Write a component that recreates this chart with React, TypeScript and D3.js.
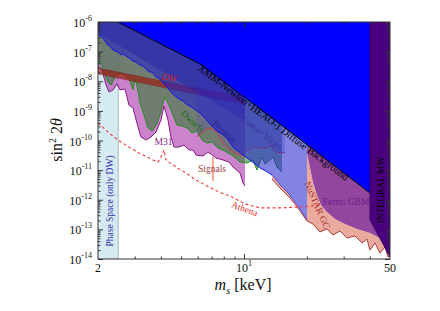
import React, { useRef, useEffect } from 'react';
import * as d3 from 'd3';

type Pt = [number, number];

// axes
const massExtent: Pt = [2, 50];
const mixExtent: Pt = [1e-14, 1e-6];
const yDecades = [-14, -13, -12, -11, -10, -9, -8, -7, -6];
const xMinorTicks = [3, 4, 5, 6, 7, 8, 9, 20, 30, 40];
const xMajorTicks = [10];
const xTickLabels = [
    { value: 2, text: '2', sup: '' },
    { value: 10, text: '10', sup: '1' },
    { value: 50, text: '50', sup: '' },
];

// bounds, [m_s in keV, sin^2 2theta]
const phaseSpaceMass: Pt = [2, 2.5];

const xmmHeaoEdge: Pt[] = [[2.49, 1e-6], [6.16, 3.82e-8], [14.87, 3.6e-10], [40.1, 1.69e-12]];

const integralEdge: Pt[] = [[40.1, 1e-6], [40.1, 2.07e-13], [50, 1.17e-14]];

const xrayEdge: Pt[] = [
    [2.0, 3.64e-7], [2.045, 3.37e-7], [2.114, 2.88e-7], [2.161, 2.28e-7], [2.233, 1.67e-7],
    [2.283, 1.55e-7], [2.36, 1.13e-7], [2.493, 9.7e-8], [2.577, 7.7e-8], [2.635, 8.3e-8],
    [2.814, 6.09e-8], [2.941, 4.83e-8], [3.04, 4.47e-8], [3.178, 3.54e-8], [3.284, 3.27e-8],
    [3.51, 2.05e-8], [3.628, 2.05e-8], [3.79, 1.39e-8], [3.961, 1.19e-8], [4.095, 8.7e-9],
    [4.326, 5.9e-9], [4.472, 4.3e-9], [4.622, 3.4e-9], [4.884, 2.5e-9], [5.105, 2.15e-9],
    [5.277, 1.71e-9], [5.7, 1.25e-9], [6.158, 8.5e-10], [6.505, 5.7e-10], [6.872, 3.6e-10],
    [7.423, 2.09e-10], [7.845, 1.66e-10], [8.29, 1.21e-10], [8.859, 6.0e-11], [9.36, 4.4e-11],
    [9.89, 3.24e-11], [10.68, 2.2e-11], [11.93, 1.18e-11], [12.75, 9.3e-12], [13.62, 6.8e-12],
    [14.87, 3.15e-12], [16.07, 1.83e-12], [17.94, 6.6e-13], [20.03, 2.07e-13],
];

const bandEdge: Pt[] = [[2, 4.25e-7], [10.11, 4.55e-10]];

const dwarfsEdge: Pt[] = [
    [2.0, 3.82e-8], [2.068, 4.13e-8], [2.137, 1.9e-8], [2.233, 9.4e-9], [2.308, 7.5e-9],
    [2.386, 1.19e-8], [2.466, 1.63e-8], [2.577, 1.9e-8], [2.723, 1.39e-8], [2.814, 1.19e-8],
    [2.941, 5.1e-9], [3.007, 1.29e-8], [3.074, 6.9e-9], [3.178, 1.84e-9], [3.358, 5.7e-10],
    [3.471, 2.64e-10], [3.628, 2.09e-10], [3.832, 3.6e-10], [3.961, 7.3e-10], [4.095, 1.84e-9],
    [4.186, 2.9e-9], [4.326, 1.84e-9], [4.571, 7.3e-10], [4.778, 3.33e-10], [5.049, 3.09e-10],
    [5.335, 2.64e-10], [5.638, 1.79e-10], [5.958, 2.09e-10], [6.295, 1.04e-10], [6.649, 8.2e-11],
    [7.025, 8.9e-11], [7.505, 5.6e-11], [8.109, 4.4e-11], [8.859, 3.0e-11], [9.571, 1.88e-11],
    [10.33, 1.74e-11], [11.04, 2.2e-11], [11.54, 1.01e-11], [12.19, 2.77e-11], [12.6, 1.61e-11],
    [13.32, 2.2e-11], [13.77, 2.77e-11], [14.39, 1.27e-11], [15.2, 8.6e-12],
];

const m31Edge: Pt[] = [
    [2.0, 3.27e-8], [2.091, 2.4e-8], [2.185, 7.5e-9], [2.258, 4.3e-9], [2.36, 5.1e-9],
    [2.466, 8.1e-9], [2.549, 5.1e-9], [2.694, 5.5e-9], [2.814, 1.58e-9], [2.941, 1.25e-9],
    [3.108, 2.86e-10], [3.213, 1.31e-10], [3.395, 1.04e-10], [3.588, 1.31e-10], [3.79, 1.94e-10],
    [4.005, 4.9e-10], [4.14, 1.46e-9], [4.326, 4.9e-10], [4.472, 1.31e-10], [4.622, 6.0e-11],
    [4.884, 6.0e-11], [5.161, 7.0e-11], [5.455, 4.8e-11], [5.7, 4.8e-11], [5.893, 3.24e-11],
    [6.364, 3.0e-11], [6.723, 4.1e-11], [6.948, 3.5e-11], [7.341, 2.57e-11], [7.932, 2.2e-11],
    [8.474, 1.88e-11], [8.859, 1.27e-11], [9.571, 8.0e-12], [9.89, 3.7e-12], [10.11, 2.9e-12],
];

const dwUpper: Pt[] = [[2, 2.8e-8], [9.9, 2.9e-9]];
const dwLower: Pt[] = [[2, 1.76e-8], [9.9, 1.71e-9]];

const perseusEdge: Pt[] = [
    [5.958, 1.31e-10], [6.505, 2.26e-10], [7.025, 2.64e-10], [7.423, 1.79e-10], [7.932, 8.2e-11],
    [8.569, 4.8e-11], [9.057, 3.8e-11], [10.11, 3.0e-11],
];

const comaVirgoEdge: Pt[] = [
    [10.11, 4.1e-11], [10.45, 4.8e-11], [11.04, 6.0e-11], [11.93, 5.6e-11], [12.89, 5.6e-11],
    [13.32, 7.0e-11], [14.07, 4.1e-11], [15.7, 3.8e-11],
];

const nustarEdge: Pt[] = [
    [13.62, 5.0e-12], [14.87, 2.49e-12], [16.61, 1.15e-12], [18.54, 4.2e-13], [20.03, 1.92e-13],
    [21.39, 1.52e-13], [23.11, 8.2e-14], [24.96, 1.03e-13], [26.68, 6.5e-14], [28.82, 8.8e-14],
    [31.13, 5.1e-14], [34.0, 6.0e-14], [36.73, 3.5e-14], [38.81, 4.7e-14], [40.11, 2.0e-14],
    [42.38, 3.5e-14], [44.78, 1.59e-14], [47.33, 2.54e-14], [48.92, 1.17e-14], [50, 1.26e-14],
];

const fermiEdge: Pt[] = [
    [20.03, 3.8e-11], [20.7, 1.18e-11], [21.39, 4.0e-12], [22.36, 1.45e-12], [23.37, 6.6e-13],
    [24.96, 3.86e-13], [27.28, 2.24e-13], [30.45, 1.52e-13], [34.76, 1.03e-13], [40.11, 7.5e-14],
    [44.78, 5.1e-14], [50, 3.75e-14],
];

const athenaCurve: Pt[] = [
    [2.0, 3.9e-10], [2.258, 1.79e-10], [2.493, 1.04e-10], [2.814, 6.0e-11], [3.144, 3.8e-11],
    [3.668, 2.2e-11], [3.875, 1.88e-11], [4.005, 2.77e-11], [4.14, 4.8e-11], [4.232, 2.2e-11],
    [4.725, 1.27e-11], [5.277, 8.0e-12], [5.893, 4.6e-12], [6.797, 2.7e-12], [7.59, 1.83e-12],
    [8.761, 1.24e-12], [10.11, 7.2e-13], [11.93, 5.3e-13], [14.87, 5.3e-13], [18.54, 5.7e-13],
    [21.16, 6.2e-13], [23.62, 6.6e-13],
];

const signalMass = 7.1;
const signalRange: Pt = [2.8e-11, 4.3e-12];

const labels = [
    { text: 'XMM-Newton+HEAO-1 Diffuse Background', m: 13.84, s: 4.05e-10, rot: 37, color: '#000', size: 10, italic: false },
    { text: 'Perseus', m: 8.07, s: 2.0e-10, rot: 40, color: '#24248c', size: 9.5, italic: false },
    { text: 'Coma+Virgo', m: 12.13, s: 1.86e-10, rot: 38, color: '#3c2e9c', size: 9.5, italic: false },
    { text: 'Dwarfs', m: 5.67, s: 4.4e-10, rot: 42, color: '#1a6e1a', size: 9.5, italic: false },
    { text: 'DW', m: 4.4, s: 1.34e-8, rot: 12, color: '#c81428', size: 10, italic: true },
    { text: 'M31', m: 4.12, s: 8.9e-11, rot: 0, color: '#8c1e8c', size: 9.5, italic: false },
    { text: 'Signals', m: 7.03, s: 1.13e-11, rot: 0, color: '#a03c3c', size: 9.5, italic: false },
    { text: 'Athena', m: 10.06, s: 4.9e-13, rot: 20, color: '#e63232', size: 9.5, italic: false },
    { text: 'NuSTAR GC', m: 22.36, s: 6.6e-13, rot: 66, color: '#aa3232', size: 9.5, italic: false },
    { text: 'Fermi GBM', m: 30.8, s: 8.4e-13, rot: 0, color: '#6e1e8c', size: 9.5, italic: false },
    { text: 'INTEGRAL MW', m: 45.3, s: 2.13e-12, rot: -90, color: '#000', size: 9.5, italic: false },
    { text: 'Phase Space (only DW)', m: 2.283, s: 9.1e-13, rot: -90, color: '#3232aa', size: 9.5, italic: false },
];

const serif = '"Liberation Serif", "Times New Roman", serif';

const App = () => {
    const svgRef = useRef<SVGSVGElement>(null);

    useEffect(() => {
        const svg = d3.select(svgRef.current);
        svg.selectAll('*').remove();

        const x = d3.scaleLog().domain(massExtent).range([98, 390]);
        const y = d3.scaleLog().domain(mixExtent).range([259, 22]);
        const top = mixExtent[1];
        const line = d3.line<Pt>().x(d => x(d[0])).y(d => y(d[1]));
        const closed = (pts: Pt[]) => line(pts) + 'Z';
        // region above a bound, up to the top of the plot
        const above = (edge: Pt[]): Pt[] => [...edge, [edge[edge.length - 1][0], top], [edge[0][0], top]];

        svg.append('defs').append('clipPath').attr('id', 'plot-clip')
            .append('rect').attr('x', 98).attr('y', 22).attr('width', 292).attr('height', 237);

        const plot = svg.append('g').attr('clip-path', 'url(#plot-clip)');

        // phase space
        plot.append('rect')
            .attr('x', x(phaseSpaceMass[0])).attr('y', 22)
            .attr('width', x(phaseSpaceMass[1]) - x(phaseSpaceMass[0])).attr('height', 237)
            .attr('fill', '#d6eaf2');
        plot.append('line')
            .attr('x1', x(phaseSpaceMass[1])).attr('x2', x(phaseSpaceMass[1]))
            .attr('y1', 22).attr('y2', 259).attr('stroke', '#9aa8b0').attr('stroke-width', 0.8);

        // M31
        plot.append('path').attr('d', closed(above(m31Edge)))
            .attr('fill', 'rgb(185,90,185)').attr('fill-opacity', 0.75);
        plot.append('path').attr('d', line(m31Edge))
            .attr('fill', 'none').attr('stroke', 'rgb(135,25,135)').attr('stroke-width', 1);

        // dwarfs
        plot.append('path').attr('d', closed(above(dwarfsEdge)))
            .attr('fill', 'rgb(30,120,30)').attr('fill-opacity', 0.52);
        plot.append('path').attr('d', line(dwarfsEdge))
            .attr('fill', 'none').attr('stroke', 'rgb(30,145,30)').attr('stroke-width', 1);

        // DW band
        plot.append('path').attr('d', closed([...dwUpper, ...dwLower.slice().reverse()]))
            .attr('fill', 'rgb(155,30,20)').attr('fill-opacity', 0.7)
            .attr('stroke', 'rgb(110,20,20)').attr('stroke-opacity', 0.5).attr('stroke-width', 0.6);

        // straight band under the diffuse background
        plot.append('path').attr('d', closed(above(bandEdge)))
            .attr('fill', 'rgb(30,10,140)').attr('fill-opacity', 0.32);

        // clusters
        plot.append('path').attr('d', closed(above(perseusEdge)))
            .attr('fill', 'rgb(90,60,200)').attr('fill-opacity', 0.22);
        plot.append('path').attr('d', line(perseusEdge))
            .attr('fill', 'none').attr('stroke', 'rgb(210,60,60)').attr('stroke-width', 0.9);
        plot.append('path').attr('d', closed(above(comaVirgoEdge)))
            .attr('fill', 'rgb(90,60,200)').attr('fill-opacity', 0.25);
        plot.append('path').attr('d', line(comaVirgoEdge))
            .attr('fill', 'none').attr('stroke', 'rgb(210,60,60)').attr('stroke-width', 0.9);

        // X-ray bound
        plot.append('path').attr('d', closed(above(xrayEdge)))
            .attr('fill', 'rgb(30,30,205)').attr('fill-opacity', 0.55);
        plot.append('path').attr('d', line(xrayEdge))
            .attr('fill', 'none').attr('stroke', 'rgb(20,20,235)').attr('stroke-width', 1);

        // NuSTAR GC
        const xrayTail = xrayEdge.filter(d => d[0] >= 13.6);
        plot.append('path')
            .attr('d', closed([...nustarEdge, ...fermiEdge.slice().reverse(), ...xrayTail.slice().reverse()]))
            .attr('fill', 'rgb(232,162,148)').attr('fill-opacity', 0.9);
        plot.append('path').attr('d', line(nustarEdge))
            .attr('fill', 'none').attr('stroke', 'rgb(170,60,60)').attr('stroke-width', 1);

        // Fermi GBM
        plot.append('path').attr('d', closed(above(fermiEdge)))
            .attr('fill', 'rgb(146,70,158)');

        // XMM-Newton + HEAO-1
        plot.append('path')
            .attr('d', closed([...xmmHeaoEdge, [xmmHeaoEdge[xmmHeaoEdge.length - 1][0], top]]))
            .attr('fill', '#0000ff');
        plot.append('path').attr('d', line(xmmHeaoEdge))
            .attr('fill', 'none').attr('stroke', '#000').attr('stroke-width', 1);

        // INTEGRAL
        plot.append('path').attr('d', closed([...integralEdge, [massExtent[1], top]]))
            .attr('fill', 'rgb(75,0,128)').attr('stroke', 'rgb(45,0,80)').attr('stroke-width', 0.8);

        // Athena projection
        plot.append('path').attr('d', line(athenaCurve))
            .attr('fill', 'none').attr('stroke', 'rgb(240,60,60)').attr('stroke-width', 1.1)
            .attr('stroke-dasharray', '3,2.5');

        // 3.5 keV signal
        plot.append('line')
            .attr('x1', x(signalMass)).attr('x2', x(signalMass))
            .attr('y1', y(signalRange[0])).attr('y2', y(signalRange[1]))
            .attr('stroke', 'rgb(245,120,90)').attr('stroke-width', 1.5).attr('stroke-opacity', 0.85);

        // region labels
        labels.forEach(l => {
            svg.append('text')
                .attr('transform', `translate(${x(l.m)},${y(l.s)}) rotate(${l.rot})`)
                .attr('text-anchor', 'middle').attr('dominant-baseline', 'central')
                .attr('font-family', serif).attr('font-size', l.size)
                .attr('font-style', l.italic ? 'italic' : 'normal')
                .attr('fill', l.color).text(l.text);
        });

        // axes
        const yMajor = yDecades.map(d => Math.pow(10, d));
        const yMinor = yDecades.slice(0, -1).flatMap(d => d3.range(2, 10).map(k => k * Math.pow(10, d)));
        const axes = svg.append('g');
        const tickStyle = (g: any) => {
            g.select('.domain').remove();
            g.selectAll('line').attr('stroke', '#333');
        };
        const noLabel = () => '';
        axes.append('g').attr('transform', 'translate(98,0)')
            .call(d3.axisLeft(y).tickValues(yMajor).tickSize(-5).tickFormat(noLabel)).call(tickStyle);
        axes.append('g').attr('transform', 'translate(98,0)')
            .call(d3.axisLeft(y).tickValues(yMinor).tickSize(-2.5).tickFormat(noLabel)).call(tickStyle);
        axes.append('g').attr('transform', 'translate(390,0)')
            .call(d3.axisRight(y).tickValues(yMajor).tickSize(-5).tickFormat(noLabel)).call(tickStyle);
        axes.append('g').attr('transform', 'translate(390,0)')
            .call(d3.axisRight(y).tickValues(yMinor).tickSize(-2.5).tickFormat(noLabel)).call(tickStyle);
        axes.append('g').attr('transform', 'translate(0,259)')
            .call(d3.axisBottom(x).tickValues(xMajorTicks).tickSize(-5).tickFormat(noLabel)).call(tickStyle);
        axes.append('g').attr('transform', 'translate(0,259)')
            .call(d3.axisBottom(x).tickValues(xMinorTicks).tickSize(-2.5).tickFormat(noLabel)).call(tickStyle);
        axes.append('g').attr('transform', 'translate(0,22)')
            .call(d3.axisTop(x).tickValues(xMajorTicks).tickSize(-5).tickFormat(noLabel)).call(tickStyle);
        axes.append('g').attr('transform', 'translate(0,22)')
            .call(d3.axisTop(x).tickValues(xMinorTicks).tickSize(-2.5).tickFormat(noLabel)).call(tickStyle);

        axes.append('rect').attr('x', 98).attr('y', 22).attr('width', 292).attr('height', 237)
            .attr('fill', 'none').attr('stroke', '#333').attr('stroke-width', 1);

        // y tick labels
        yDecades.forEach(d => {
            const t = axes.append('text')
                .attr('x', 92).attr('y', y(Math.pow(10, d)) + 5)
                .attr('text-anchor', 'end').attr('font-family', serif).attr('font-size', 12).attr('fill', '#111');
            t.append('tspan').text('10');
            t.append('tspan').attr('dy', -6).attr('font-size', 8).text(String(d));
        });

        // x tick labels
        xTickLabels.forEach(l => {
            const t = axes.append('text')
                .attr('x', x(l.value)).attr('y', 272)
                .attr('text-anchor', 'middle').attr('font-family', serif).attr('font-size', 12).attr('fill', '#111');
            t.append('tspan').text(l.text);
            if (l.sup) t.append('tspan').attr('dy', -6).attr('font-size', 8).text(l.sup);
        });

        // axis titles
        const yTitle = axes.append('text')
            .attr('transform', 'translate(62,140) rotate(-90)')
            .attr('text-anchor', 'middle').attr('font-family', serif).attr('font-size', 16).attr('fill', '#111');
        yTitle.append('tspan').text('sin');
        yTitle.append('tspan').attr('dy', -6).attr('font-size', 10).text('2');
        yTitle.append('tspan').attr('dy', 6).text(' 2');
        yTitle.append('tspan').attr('font-style', 'italic').text('θ');

        const xTitle = axes.append('text')
            .attr('x', 243).attr('y', 290)
            .attr('text-anchor', 'middle').attr('font-family', serif).attr('font-size', 16).attr('fill', '#111');
        xTitle.append('tspan').attr('font-style', 'italic').text('m');
        xTitle.append('tspan').attr('font-style', 'italic').attr('font-size', 11).attr('dy', 4).text('s');
        xTitle.append('tspan').attr('dy', -4).text(' [keV]');
    }, []);

    return (
        <div style={{ position: 'absolute', left: 0, top: 0 }}>
            <svg ref={svgRef} width={440} height={311} />
        </div>
    );
};

export default App;
